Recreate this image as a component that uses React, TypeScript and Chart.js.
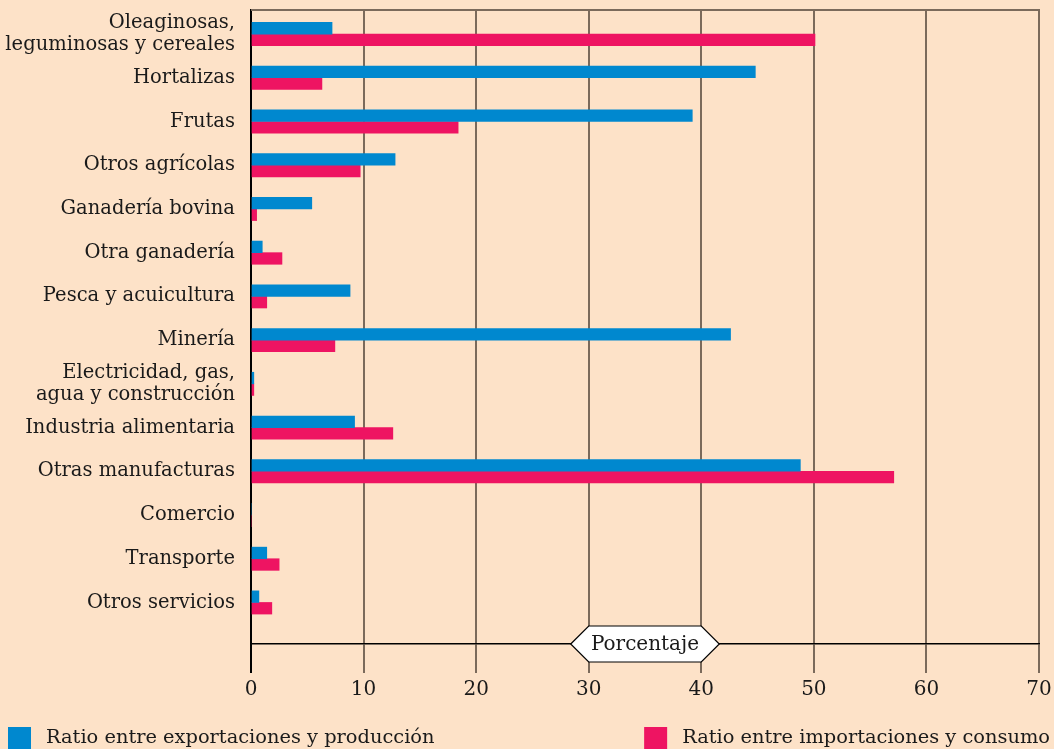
import React, { useEffect, useRef } from "react";
import { Chart, registerables } from "chart.js";

Chart.register(...registerables);

const categories: string[][] = [
  ["Oleaginosas,", "leguminosas y cereales"],
  ["Hortalizas"],
  ["Frutas"],
  ["Otros agrícolas"],
  ["Ganadería bovina"],
  ["Otra ganadería"],
  ["Pesca y acuicultura"],
  ["Minería"],
  ["Electricidad, gas,", "agua y construcción"],
  ["Industria alimentaria"],
  ["Otras manufacturas"],
  ["Comercio"],
  ["Transporte"],
  ["Otros servicios"],
];

const exportRatio: number[] = [7.2, 44.8, 39.2, 12.8, 5.4, 1.0, 8.8, 42.6, 0.25, 9.2, 48.8, 0, 1.4, 0.7];
const importRatio: number[] = [50.1, 6.3, 18.4, 9.7, 0.5, 2.75, 1.4, 7.45, 0.25, 12.6, 57.1, 0, 2.5, 1.85];

const seriesLabels: string[] = [
  "Ratio entre exportaciones y producción",
  "Ratio entre importaciones y consumo",
];
const xTicks: number[] = [0, 10, 20, 30, 40, 50, 60, 70];
const AXIS_TITLE = "Porcentaje";

const BG = "#fde2c8";
const BLUE = "#0088cf";
const PINK = "#ee1462";
const FONT = "'DejaVu Serif', serif";
const TEXT = "#1a1a1a";
const GRID = "#7b6a5b";

export default function App() {
  const ref = useRef<HTMLCanvasElement | null>(null);

  useEffect(() => {
    document.body.style.margin = "0";
    document.body.style.background = BG;
    const canvas = ref.current;
    if (!canvas) return;

    const topLine = {
      id: "topLine",
      afterDraw(chart: any) {
        const { ctx, chartArea } = chart;
        ctx.save();
        ctx.strokeStyle = GRID;
        ctx.lineWidth = 2;
        ctx.beginPath();
        ctx.moveTo(chartArea.left, chartArea.top);
        ctx.lineTo(chartArea.right + 1, chartArea.top);
        ctx.stroke();
        ctx.restore();
      },
    };

    const axisBadge = {
      id: "axisBadge",
      afterDraw(chart: any) {
        const { ctx, chartArea } = chart;
        const xs = chart.scales.x;
        const x1 = xs.getPixelForValue(30);
        const x2 = xs.getPixelForValue(40);
        const y = chartArea.bottom;
        const h = 18;
        ctx.save();
        ctx.beginPath();
        ctx.moveTo(x1 - h, y);
        ctx.lineTo(x1, y - h);
        ctx.lineTo(x2, y - h);
        ctx.lineTo(x2 + h, y);
        ctx.lineTo(x2, y + h);
        ctx.lineTo(x1, y + h);
        ctx.closePath();
        ctx.fillStyle = "#ffffff";
        ctx.fill();
        ctx.strokeStyle = "#000";
        ctx.lineWidth = 1.2;
        ctx.stroke();
        ctx.fillStyle = TEXT;
        ctx.font = `20px ${FONT}`;
        ctx.textAlign = "center";
        ctx.textBaseline = "middle";
        ctx.fillText(AXIS_TITLE, (x1 + x2) / 2, y + 1);
        ctx.restore();
      },
    };

    const splitLegend = {
      id: "splitLegend",
      afterDraw(chart: any) {
        const { ctx, width, height } = chart;
        const ds = chart.data.datasets;
        const box = 23;
        const yTop = height - 22;
        const yMid = yTop + 11;
        ctx.save();
        ctx.font = `19.4px ${FONT}`;
        ctx.textBaseline = "middle";
        ctx.fillStyle = ds[0].backgroundColor;
        ctx.fillRect(8, yTop, box, 22);
        ctx.fillStyle = TEXT;
        ctx.textAlign = "left";
        ctx.fillText(ds[0].label, 46, yMid);
        const tw = ctx.measureText(ds[1].label).width;
        const textX = width - 4 - tw;
        ctx.fillStyle = ds[1].backgroundColor;
        ctx.fillRect(textX - 38, yTop, box, 22);
        ctx.fillStyle = TEXT;
        ctx.fillText(ds[1].label, textX, yMid);
        ctx.restore();
      },
    };

    const chart = new Chart(canvas, {
      type: "bar",
      data: {
        datasets: [
          {
            label: seriesLabels[0],
            data: exportRatio.map((v, i) => ({ x: v, y: i })),
            backgroundColor: BLUE,
            borderWidth: 0,
            barThickness: 11.6,
          },
          {
            label: seriesLabels[1],
            data: importRatio.map((v, i) => ({ x: v, y: i })),
            backgroundColor: PINK,
            borderWidth: 0,
            barThickness: 11.6,
          },
        ],
      } as any,
      options: {
        indexAxis: "y",
        responsive: false,
        animation: false,
        events: [],
        layout: { padding: { top: 10, right: 15, bottom: 0, left: 0 } },
        plugins: {
          legend: { display: false },
          tooltip: { enabled: false },
          title: { display: false },
        },
        scales: {
          x: {
            type: "linear",
            min: 0,
            max: 70,
            afterBuildTicks: (scale: any) => {
              scale.ticks = xTicks.map((v) => ({ value: v }));
            },
            afterFit: (scale: any) => {
              scale.height = 105;
              scale.paddingRight = 0;
            },
            grid: {
              color: (c: any) => (c.tick && c.tick.value === 0 ? "#000" : GRID),
              lineWidth: 2,
              tickLength: 29,
              tickColor: (c: any) => (c.tick && c.tick.value === 0 ? "#000" : GRID),
              drawOnChartArea: true,
            },
            border: { display: true, color: "#000", width: 1.5 },
            ticks: {
              color: TEXT,
              font: { family: FONT, size: 20 },
              padding: 5,
              maxRotation: 0,
            },
          },
          y: {
            type: "linear",
            reverse: true,
            offset: false,
            min: -0.55,
            max: 13.95,
            afterBuildTicks: (scale: any) => {
              scale.ticks = categories.map((_, i) => ({ value: i }));
            },
            afterFit: (scale: any) => {
              scale.width = 251;
              scale.paddingTop = 0;
              scale.paddingBottom = 0;
            },
            grid: { display: false, drawTicks: false, offset: false },
            border: { display: true, color: "#000", width: 2 },
            ticks: {
              color: TEXT,
              font: { family: FONT, size: 19.5, lineHeight: 1.13 },
              padding: 16,
              autoSkip: false,
              callback: (v: any) => {
                const c = categories[Math.round(Number(v))];
                return c ? (c.length === 1 ? c[0] : c) : "";
              },
            },
          },
        },
      } as any,
      plugins: [topLine, axisBadge, splitLegend],
    });

    return () => chart.destroy();
  }, []);

  return (
    <div style={{ width: 1054, height: 749, background: BG }}>
      <canvas ref={ref} width={1054} height={749} style={{ display: "block" }} />
    </div>
  );
}
